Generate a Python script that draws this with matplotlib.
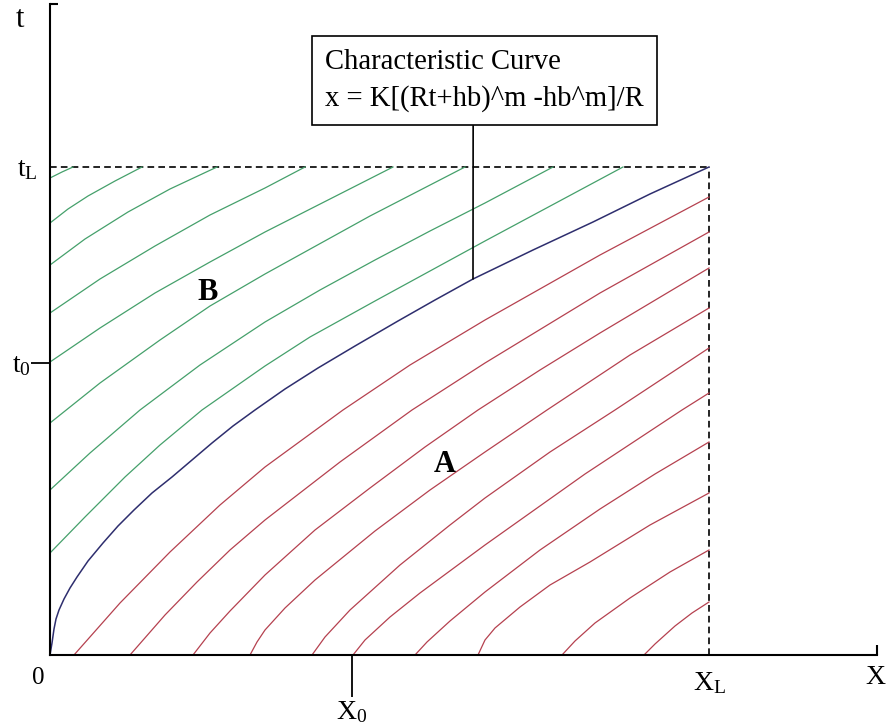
"""
Characteristic curves in the x-t plane (kinematic wave sketch)
Region A (initial condition) and region B (upstream boundary)
"""

import matplotlib
matplotlib.use('Agg')
import matplotlib.pyplot as plt

plt.rcParams['font.family'] = ['Liberation Serif', 'DejaVu Serif']
plt.rcParams['mathtext.fontset'] = 'custom'
plt.rcParams['mathtext.rm'] = 'Liberation Serif'
plt.rcParams['mathtext.it'] = 'Liberation Serif:italic'
plt.rcParams['mathtext.bf'] = 'Liberation Serif:bold'

# ================================
# Data (arbitrary units)
# ================================
X0 = 302
XL = 659
T0 = 292
TL = 488

# characteristic curve through the origin
CHAR_X = [0, 1, 2, 3, 4, 6, 9, 14, 20, 27, 38, 53, 68, 84, 102, 122, 142, 162,
          183, 205, 235, 268, 305, 348, 385, 423, 483, 543, 600, 659]
CHAR_T = [0, 6, 12, 19, 26, 36, 45, 56, 67, 78, 94, 112, 129, 145, 162, 178, 195, 212,
          229, 245, 266, 287, 309, 334, 355, 376, 405, 433, 461, 488]

# region B: characteristics leaving the upstream boundary (x = 0)
GREEN_X = [
    [0, 12, 23],
    [0, 18, 38, 65, 92],
    [0, 35, 78, 120, 167],
    [0, 50, 105, 160, 215, 255],
    [0, 50, 105, 160, 215, 280, 343],
    [0, 50, 110, 160, 215, 320, 415],
    [0, 40, 90, 150, 215, 270, 325, 380, 435, 503],
    [0, 35, 75, 110, 152, 215, 260, 325, 435, 573],
]
GREEN_T = [
    [477, 483, 488],
    [432, 446, 459, 474, 488],
    [390, 416, 443, 466, 488],
    [342, 376, 409, 440, 467, 488],
    [293, 327, 362, 393, 423, 456, 488],
    [232, 272, 315, 349, 381, 439, 488],
    [165, 202, 245, 290, 333, 365, 395, 424, 452, 488],
    [102, 138, 178, 210, 245, 289, 318, 354, 414, 488],
]

# region A: characteristics leaving the initial line (t = 0)
RED_X = [
    [24, 70, 120, 170, 215, 293, 360, 435, 550, 659],
    [80, 115, 147, 180, 215, 290, 362, 435, 550, 659],
    [143, 160, 180, 215, 265, 320, 375, 428, 490, 550, 659],
    [200, 207, 215, 235, 265, 325, 380, 435, 497, 580, 659],
    [262, 275, 300, 350, 400, 435, 500, 565, 612, 659],
    [303, 315, 340, 370, 435, 535, 632, 659],
    [365, 377, 400, 435, 490, 550, 605, 659],
    [428, 435, 445, 470, 500, 540, 600, 659],
    [512, 525, 545, 580, 620, 659],
    [594, 605, 625, 642, 659],
]
RED_T = [
    [0, 52, 103, 150, 188, 245, 290, 335, 400, 458],
    [0, 40, 73, 105, 135, 193, 245, 292, 362, 423],
    [0, 22, 44, 80, 125, 167, 208, 245, 285, 322, 387],
    [0, 13, 25, 47, 75, 124, 165, 203, 245, 300, 347],
    [0, 18, 45, 90, 130, 157, 203, 245, 276, 307],
    [0, 15, 38, 62, 110, 181, 245, 262],
    [0, 13, 34, 63, 105, 146, 181, 213],
    [0, 15, 27, 48, 70, 93, 130, 162],
    [0, 14, 32, 57, 83, 105],
    [0, 11, 29, 42, 53],
]

LEADER_INDEX = 25  # point on the characteristic curve where the callout points

GREEN = '#45a06b'
RED = '#b5414f'
NAVY = '#2e2e6e'

# ================================
# Figure
# ================================
fig = plt.figure(figsize=(8.88, 7.28), dpi=100)
ax = fig.add_axes([50 / 888, 73 / 728, 827 / 888, 651 / 728])
ax.set_xlim(0, 827)
ax.set_ylim(0, 651)

for side in ['top', 'right']:
    ax.spines[side].set_visible(False)
for side in ['left', 'bottom']:
    ax.spines[side].set_linewidth(1.5)

# small end marks on the axes
ax.plot([0, 8], [651, 651], color='black', lw=1.5, clip_on=False, solid_capstyle='butt')
ax.plot([827, 827], [0, 10], color='black', lw=1.5, clip_on=False, solid_capstyle='butt')

# ticks and their labels
ax.set_xticks([X0], labels=[r'$\mathrm{X_0}$'])
ax.set_xticks([XL], labels=[r'$\mathrm{X_L}$'], minor=True)
ax.tick_params(axis='x', which='major', direction='out', length=30, width=1.3, pad=2, labelsize=20)
ax.tick_params(axis='x', which='minor', length=0, pad=11, labelsize=20)
ax.set_yticks([T0], labels=[r'$\mathrm{t_0}$'])
ax.set_yticks([TL], labels=[r'$\mathrm{t_L}$'], minor=True)
ax.tick_params(axis='y', which='major', direction='out', length=14, width=1.3, pad=0, labelsize=20)
ax.tick_params(axis='y', which='minor', length=0, pad=9, labelsize=20)

ax.text(-30, 628, 't', fontsize=22, ha='center', va='baseline')
ax.text(-12, -29, '0', fontsize=18, ha='center', va='baseline')
ax.text(825, -29, 'X', fontsize=20, ha='center', va='baseline', clip_on=False)

# limits of the domain
ax.hlines(TL, 0, XL, colors='black', linestyles=(0, (4, 2.5)), lw=1.2)
ax.vlines(XL, 0, TL, colors='black', linestyles=(0, (4, 2.5)), lw=1.2)

# families of characteristics
for xs, ts in zip(GREEN_X, GREEN_T):
    ax.plot(xs, ts, color=GREEN, lw=0.9)
for xs, ts in zip(RED_X, RED_T):
    ax.plot(xs, ts, color=RED, lw=0.9)
ax.plot(CHAR_X, CHAR_T, color=NAVY, lw=1.1)

ax.text(158, 355, 'B', fontsize=22, fontweight='bold', ha='center', va='baseline')
ax.text(395, 183, 'A', fontsize=22, fontweight='bold', ha='center', va='baseline')

# callout box for the characteristic curve
ax.annotate('Characteristic Curve\nx = K[(Rt+hb)^m -hb^m]/R',
            xy=(CHAR_X[LEADER_INDEX], CHAR_T[LEADER_INDEX]),
            xytext=(275, 606), ha='left', va='top', fontsize=20.6, linespacing=1.5,
            bbox=dict(boxstyle='square,pad=0.45', fc='white', ec='black', lw=1.2),
            arrowprops=dict(arrowstyle='-', color='black', lw=1.2,
                            relpos=(0.465, 0), shrinkA=0, shrinkB=0))

plt.savefig('out.png', dpi=100)
